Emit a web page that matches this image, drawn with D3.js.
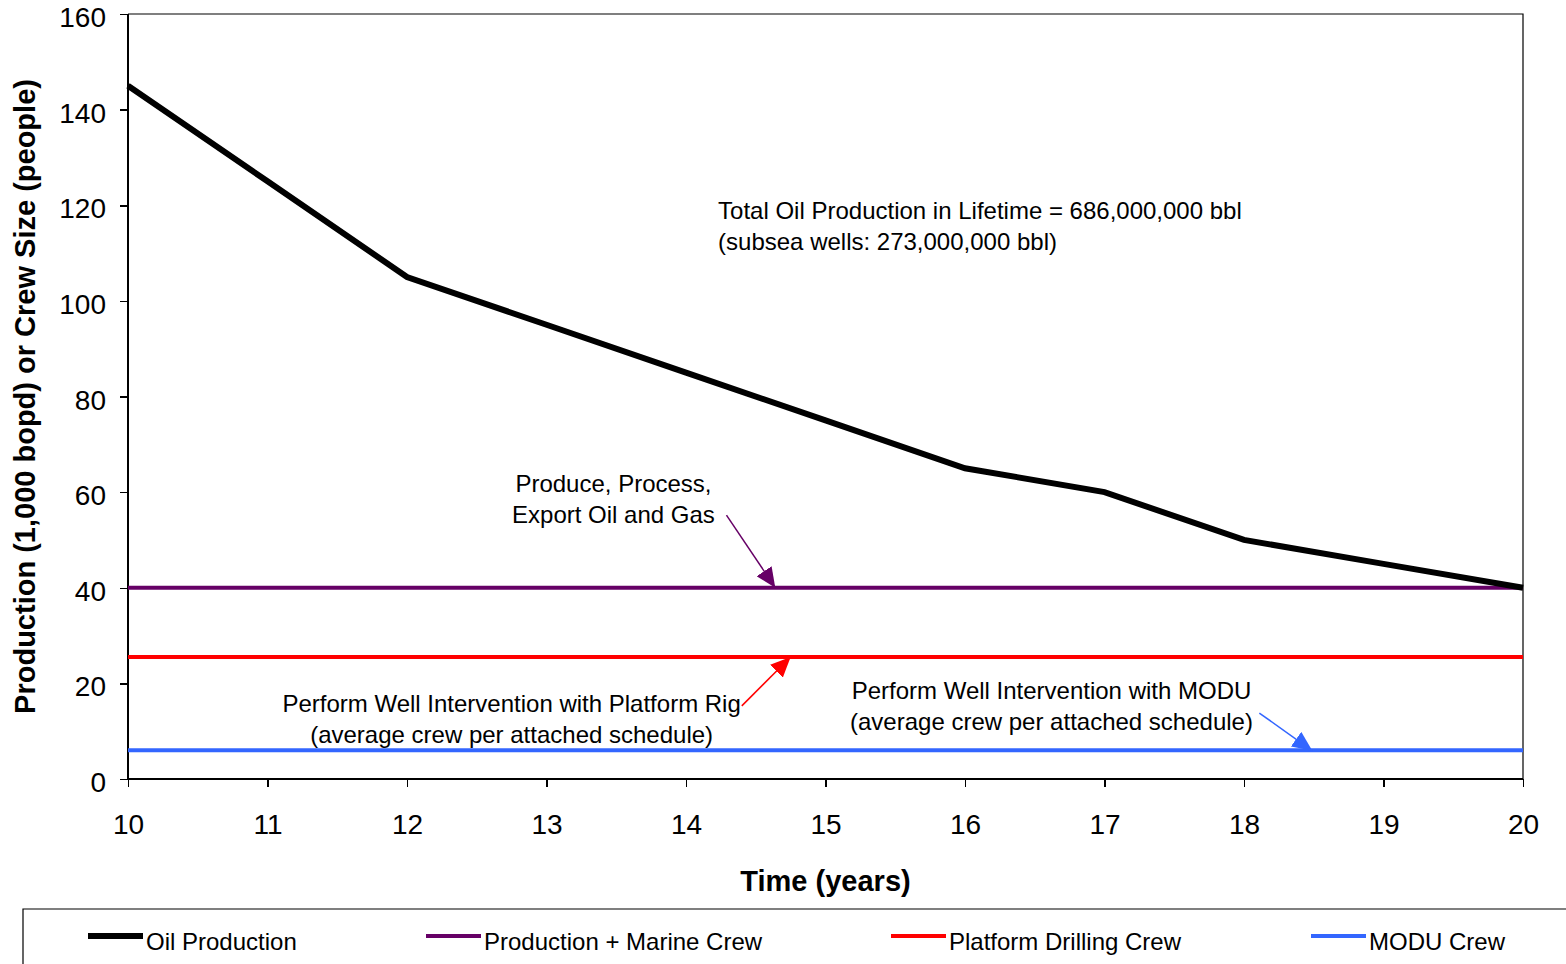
<!DOCTYPE html>
<meta charset='utf-8'>
<style>
    body { margin: 0; background: #fff; }
    svg { font-family: 'Liberation Sans', Arial, sans-serif; }
    .axis path, .axis line { fill: none; stroke: #000; stroke-width: 1.5px; shape-rendering: crispEdges; }
    .axis text { font-size: 28px; fill: #000; }
</style>
<body>
<script src='https://d3js.org/d3.v7.min.js'></script>
<script>
    // Data
    const years = [10, 11, 12, 13, 14, 15, 16, 17, 18, 19, 20];
    const oilProduction = [145, 125, 105, 95, 85, 75, 65, 60, 50, 45, 40];
    const productionCrew = [40, 40, 40, 40, 40, 40, 40, 40, 40, 40, 40];
    const platformCrew = [25.5, 25.5, 25.5, 25.5, 25.5, 25.5, 25.5, 25.5, 25.5, 25.5, 25.5];
    const moduCrew = [6, 6, 6, 6, 6, 6, 6, 6, 6, 6, 6];
    const yTicks = [0, 20, 40, 60, 80, 100, 120, 140, 160];

    const series = [
        { name: 'Oil Production', values: oilProduction, color: '#000000', width: 6 },
        { name: 'Production + Marine Crew', values: productionCrew, color: '#660066', width: 4 },
        { name: 'Platform Drilling Crew', values: platformCrew, color: '#ff0000', width: 4 },
        { name: 'MODU Crew', values: moduCrew, color: '#3366ff', width: 4 }
    ];

    // annotations in data units (baseline of first line)
    const notes = [
        { lines: ['Total Oil Production in Lifetime = 686,000,000 bbl', '(subsea wells: 273,000,000 bbl)'], x: 14.23, y: 117.2, anchor: 'start' },
        { lines: ['Produce, Process,', 'Export Oil and Gas'], x: 13.48, y: 60.1, anchor: 'middle' },
        { lines: ['Perform Well Intervention with Platform Rig', '(average crew per attached schedule)'], x: 12.75, y: 14.1, anchor: 'middle' },
        { lines: ['Perform Well Intervention with MODU', '(average crew per attached schedule)'], x: 16.62, y: 16.8, anchor: 'middle' }
    ];
    const arrows = [
        { x1: 14.29, y1: 55.2, x2: 14.64, y2: 40, color: '#660066' },
        { x1: 14.40, y1: 15.3, x2: 14.75, y2: 25.5, color: '#ff0000' },
        { x1: 18.11, y1: 13.8, x2: 18.49, y2: 5.9, color: '#3366ff' }
    ];

    const W = 1566, H = 964;
    const svg = d3.select('body').append('svg')
        .attr('width', W).attr('height', H);

    const x = d3.scaleLinear().domain([10, 20]).range([128, 1523]);
    const y = d3.scaleLinear().domain([0, 160]).range([779, 14]);

    // plot frame (top and right)
    svg.append('path')
        .attr('d', `M${x(10)},${y(160)}H${x(20)}V${y(0)}`)
        .attr('fill', 'none').attr('stroke', '#000').attr('stroke-width', 1.2);

    const yAxisG = svg.append('g')
        .attr('class', 'axis')
        .attr('transform', `translate(${x(10)},0)`)
        .call(d3.axisLeft(y).tickValues(yTicks).tickSize(8).tickPadding(14));
    yAxisG.select('.domain').attr('d', `M0,${y(0)}V${y(160)}`);
    yAxisG.selectAll('.tick text').attr('dy', '0.45em');

    svg.append('g')
        .attr('class', 'axis')
        .attr('transform', `translate(0,${y(0)})`)
        .call(d3.axisBottom(x).tickValues(years).tickSize(8).tickPadding(27))
        .select('.domain').attr('d', `M${x(10)},0H${x(20)}`);

    // axis titles
    svg.append('text')
        .attr('transform', `translate(35,${(y(0) + y(160)) / 2}) rotate(-90)`)
        .attr('text-anchor', 'middle')
        .style('font-size', '29px').style('font-weight', 'bold')
        .text('Production (1,000 bopd) or Crew Size (people)');

    svg.append('text')
        .attr('x', (x(10) + x(20)) / 2).attr('y', 891)
        .attr('text-anchor', 'middle')
        .style('font-size', '29px').style('font-weight', 'bold')
        .text('Time (years)');

    // lines
    const line = d3.line().x((d, i) => x(years[i])).y(d => y(d));
    [...series].reverse().forEach(s => {
        svg.append('path')
            .datum(s.values)
            .attr('d', line)
            .attr('fill', 'none')
            .attr('stroke', s.color)
            .attr('stroke-width', s.width);
    });

    // arrows
    const defs = svg.append('defs');
    arrows.forEach((a, i) => {
        defs.append('marker')
            .attr('id', 'arr' + i)
            .attr('viewBox', '0 0 10 10')
            .attr('refX', 10).attr('refY', 5)
            .attr('markerWidth', 20).attr('markerHeight', 18)
            .attr('markerUnits', 'userSpaceOnUse')
            .attr('orient', 'auto')
            .attr('preserveAspectRatio', 'none')
            .append('path').attr('d', 'M0,0L10,5L0,10Z').attr('fill', a.color);
        svg.append('line')
            .attr('x1', x(a.x1)).attr('y1', y(a.y1))
            .attr('x2', x(a.x2)).attr('y2', y(a.y2))
            .attr('stroke', a.color).attr('stroke-width', 1.5)
            .attr('marker-end', `url(#arr${i})`);
    });

    // annotation text
    notes.forEach(n => {
        const t = svg.append('text')
            .attr('text-anchor', n.anchor)
            .style('font-size', '24px');
        n.lines.forEach((l, i) => {
            t.append('tspan')
                .attr('x', x(n.x))
                .attr('y', y(n.y) + i * 31.5)
                .text(l);
        });
    });

    // legend
    svg.append('path')
        .attr('d', `M${W},909H23V${H}`)
        .attr('fill', 'none').attr('stroke', '#000').attr('stroke-width', 1.2);

    const legendX = [88, 426, 891, 1311];
    const legend = svg.selectAll('.legend')
        .data(series)
        .enter().append('g')
            .attr('class', 'legend')
            .attr('transform', (d, i) => `translate(${legendX[i]},0)`);
    legend.append('line')
        .attr('x1', 0).attr('x2', 55)
        .attr('y1', 936).attr('y2', 936)
        .attr('stroke', d => d.color)
        .attr('stroke-width', d => d.width);
    legend.append('text')
        .attr('x', 58).attr('y', 950)
        .style('font-size', '24px')
        .text(d => d.name);
</script>
</body>
